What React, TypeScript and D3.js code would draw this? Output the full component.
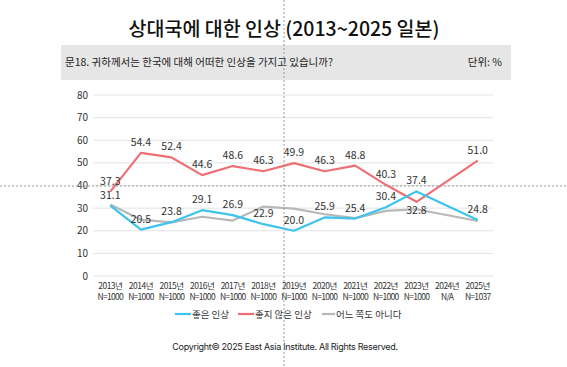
import React from 'react';
import { scaleLinear, scalePoint, line } from 'd3';

const years = ['2013', '2014', '2015', '2016', '2017', '2018', '2019', '2020', '2021', '2022', '2023', '2024', '2025'];
const sampleSizes = ['N=1000', 'N=1000', 'N=1000', 'N=1000', 'N=1000', 'N=1000', 'N=1000', 'N=1000', 'N=1000', 'N=1000', 'N=1000', 'N/A', 'N=1037'];

// 좋은 인상
const goodImpression = [31.1, 20.5, 23.8, 29.1, 26.9, 22.9, 20.0, 25.9, 25.4, 30.4, 37.4, null, 24.8];
// 좋지 않은 인상
const badImpression = [37.3, 54.4, 52.4, 44.6, 48.6, 46.3, 49.9, 46.3, 48.8, 40.3, 32.8, null, 51.0];
// 어느 쪽도 아니다 (no labels in the chart)
const neither = [31.6, 24.9, 23.7, 26.2, 24.5, 30.7, 29.8, 27.3, 25.6, 28.8, 29.5, null, 24.3];

const yTicks = [0, 10, 20, 30, 40, 50, 60, 70, 80];

const W = 567;
const H = 367;
const FONT = '"Noto Sans CJK KR", "Noto Sans", sans-serif';

const seriesList = [
  { name: '좋은 인상', values: goodImpression, color: '#3ec3ec', labels: true },
  { name: '좋지 않은 인상', values: badImpression, color: '#ef6f73', labels: true },
  { name: '어느 쪽도 아니다', values: neither, color: '#b8b8b8', labels: false },
];

const App: React.FC = () => {
  const x = scalePoint<string>().domain(years).range([95, 493]).padding(0.5);
  const y = scaleLinear().domain([0, 80]).range([276, 95]);

  const gen = line<[string, number]>().x(d => x(d[0]) as number).y(d => y(d[1]));

  const pts = (vals: (number | null)[]) =>
    vals.map((v, i) => [years[i], v] as [string, number | null]).filter(d => d[1] !== null) as [string, number][];

  // draw gray underneath, then red, then blue
  const drawOrder = [seriesList[2], seriesList[1], seriesList[0]];

  return (
    <svg width={W} height={H} style={{ position: 'absolute', left: 0, top: 0, background: '#fff' }} fontFamily={FONT}>
      <rect x={0} y={0} width={W} height={H} fill="#fff" />

      {/* title */}
      <text x={284} y={36} textAnchor="middle" fontSize={19.5} fontWeight={500} fill="#111">
        상대국에 대한 인상 (2013~2025 일본)
      </text>

      {/* question bar */}
      <rect x={61} y={45} width={450} height={35} fill="#e6e6e6" />
      <text x={65} y={65.5} fontSize={10.5} fill="#222">
        문18. 귀하께서는 한국에 대해 어떠한 인상을 가지고 있습니까?
      </text>
      <text x={502} y={65.5} fontSize={10.5} fill="#222" textAnchor="end">
        단위: %
      </text>

      {/* grid */}
      {yTicks.map(t => (
        <g key={t}>
          <line x1={93} x2={493} y1={y(t)} y2={y(t)} stroke="#e3e3e3" strokeWidth={1} />
          <text x={88} y={y(t) + 3.5} textAnchor="end" fontSize={10} fill="#333">{t}</text>
        </g>
      ))}

      {/* lines */}
      {drawOrder.map(s => (
        <path key={s.name} d={gen(pts(s.values)) || ''} fill="none" stroke={s.color} strokeWidth={2.2} strokeLinejoin="round" />
      ))}

      {/* value labels */}
      {seriesList.filter(s => s.labels).map(s =>
        s.values.map((v, i) => {
          if (v === null) return null;
          const below = s.name === '좋지 않은 인상' && years[i] === '2023';
          return (
            <text key={s.name + i} x={x(years[i]) as number} y={y(v) + (below ? 12 : -7)}
              textAnchor="middle" fontSize={10.5} fill="#333">
              {v.toFixed(1)}
            </text>
          );
        })
      )}

      {/* x axis labels */}
      {years.map((yr, i) => (
        <g key={yr}>
          <text x={x(yr) as number} y={289} textAnchor="middle" fontSize={8.5} letterSpacing={-0.5} fill="#333">{yr}년</text>
          <text x={x(yr) as number} y={300} textAnchor="middle" fontSize={8.5} letterSpacing={-0.7} fill="#333">{sampleSizes[i]}</text>
        </g>
      ))}

      {/* legend */}
      <line x1={175} x2={191} y1={314} y2={314} stroke={seriesList[0].color} strokeWidth={2.2} />
      <text x={192} y={317.5} fontSize={9.5} fill="#333">좋은 인상</text>
      <line x1={238} x2={254} y1={314} y2={314} stroke={seriesList[1].color} strokeWidth={2.2} />
      <text x={255} y={317.5} fontSize={9.5} fill="#333">좋지 않은 인상</text>
      <line x1={322} x2={335} y1={314} y2={314} stroke={seriesList[2].color} strokeWidth={2.2} />
      <text x={336} y={317.5} fontSize={9.5} fill="#333">어느 쪽도 아니다</text>

      {/* copyright */}
      <text x={285} y={350} textAnchor="middle" fontSize={9} fill="#222" fontFamily='"Inter", "Noto Sans", sans-serif' letterSpacing={-0.3}>
        Copyright© 2025 East Asia Institute. All Rights Reserved.
      </text>

      {/* guide lines seen in the reference */}
      <line x1={284} x2={284} y1={0} y2={H} stroke="#9a9a9a" strokeWidth={1} strokeDasharray="2,2" />
      <line x1={0} x2={W} y1={186} y2={186} stroke="#9a9a9a" strokeWidth={1} strokeDasharray="2,2" />
    </svg>
  );
};

export default App;
